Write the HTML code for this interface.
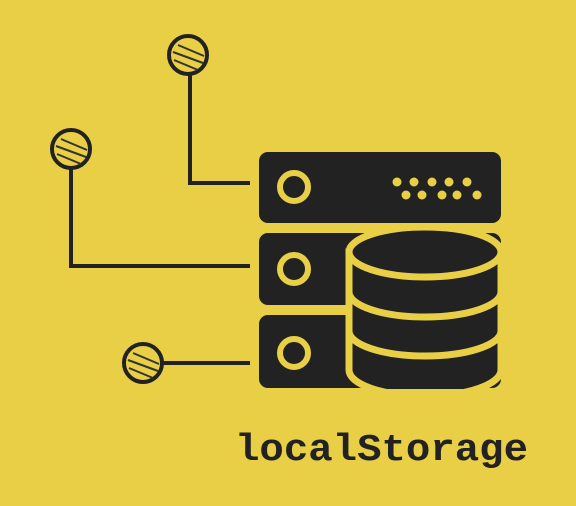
<!DOCTYPE html>
<html><head><style>
html,body{margin:0;padding:0;background:#e8cf45;}
svg{display:block}
</style></head><body>
<svg width="576" height="506" viewBox="0 0 576 506" xmlns="http://www.w3.org/2000/svg">
<rect width="576" height="506" fill="#e8cf45"/>
<g stroke="#222" stroke-width="4" fill="none">
<polyline points="190,75 190,183 250,183"/>
<polyline points="71,169 71,266 250,266"/>
<polyline points="163,363 250,363"/>
</g>
<g stroke="#222" stroke-width="4" fill="#e8cf45">
<circle cx="188" cy="55" r="19"/>
<circle cx="71" cy="149" r="19"/>
<circle cx="143" cy="363" r="19"/>
</g>
<g stroke="#333" stroke-width="2">
<line x1="178" y1="45" x2="204" y2="56"/><line x1="173" y1="52" x2="203" y2="63"/><line x1="174" y1="60" x2="198" y2="70"/>
<line x1="61" y1="139" x2="87" y2="150"/><line x1="56" y1="146" x2="86" y2="157"/><line x1="57" y1="154" x2="81" y2="164"/>
<line x1="133" y1="353" x2="159" y2="364"/><line x1="128" y1="360" x2="158" y2="371"/><line x1="129" y1="368" x2="153" y2="378"/>
</g>
<g fill="#222">
<rect x="259" y="152" width="242" height="71" rx="9"/>
<rect x="259" y="233" width="242" height="72" rx="9"/>
<rect x="259" y="315" width="242" height="73" rx="9"/>
</g>
<g stroke="#e8cf45" stroke-width="6" fill="none">
<circle cx="294" cy="187" r="14"/>
<circle cx="294" cy="269" r="14"/>
<circle cx="294" cy="353" r="14"/>
</g>
<g fill="#e8cf45">
<circle cx="397" cy="182" r="4.5"/><circle cx="414" cy="182" r="4.5"/><circle cx="432" cy="182" r="4.5"/><circle cx="449" cy="182" r="4.5"/><circle cx="467" cy="182" r="4.5"/>
<circle cx="406" cy="195" r="4.5"/><circle cx="422" cy="195" r="4.5"/><circle cx="442" cy="195" r="4.5"/><circle cx="457" cy="195" r="4.5"/><circle cx="477" cy="195" r="4.5"/>
</g>
<!-- database cylinder -->
<path d="M349,252 L349,370 A76,26 0 0 0 501,370 L501,252 Z" fill="#222" stroke="#e8cf45" stroke-width="7"/>
<ellipse cx="425" cy="252" rx="76" ry="25" fill="#222" stroke="#e8cf45" stroke-width="7"/>
<g stroke="#e8cf45" stroke-width="7" fill="none">
<path d="M349,292 A76,25 0 0 0 501,292"/>
<path d="M349,331 A76,25 0 0 0 501,331"/>
</g>
<rect x="502" y="225" width="20" height="170" fill="#e8cf45"/>
<rect x="340" y="389" width="170" height="10" fill="#e8cf45"/>
<text x="235" y="460" font-family="Liberation Mono, monospace" font-weight="bold" font-size="38" fill="#222" textLength="293" lengthAdjust="spacingAndGlyphs">localStorage</text>
</svg>
</body></html>
